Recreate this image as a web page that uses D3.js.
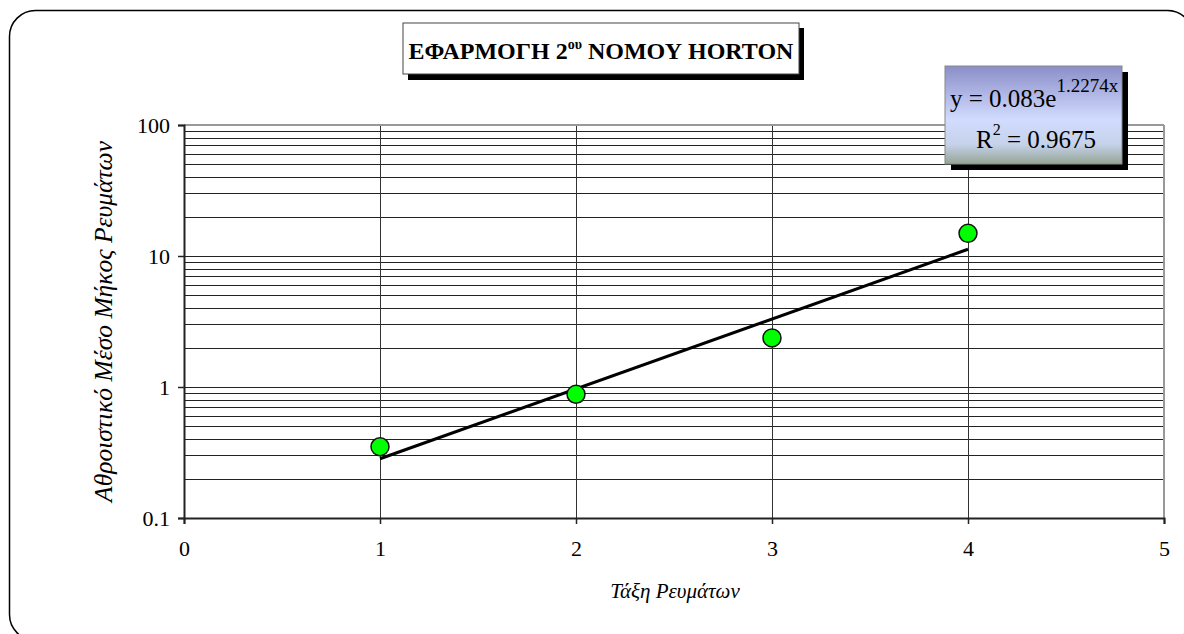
<!DOCTYPE html>
<html>
<head>
<meta charset="utf-8">
<script src="https://cdn.jsdelivr.net/npm/d3@7"></script>
<style>
  body { margin: 0; background: #fff; }
  text { font-family: "Liberation Serif", "Times New Roman", serif; }
</style>
</head>
<body>
<div id="chart"></div>
<script>
// data
var order = [1, 2, 3, 4];
var meanLength = [0.35, 0.88, 2.37, 14.9];
var xTicks = [0, 1, 2, 3, 4, 5];
var yTicks = [0.1, 1, 10, 100];
var trendA = 0.083, trendB = 1.2274;
var trendX = [1, 4];

var W = 1184, H = 634;
var serif = "'Liberation Serif', 'Times New Roman', serif";
var margin = {top: 125, right: 20, bottom: 116, left: 184},
    width = 1164 - margin.left,
    height = 518 - margin.top;

var svg = d3.select("#chart")
  .append("svg")
    .attr("width", W)
    .attr("height", H);

// outer rounded frame
svg.append("rect")
  .attr("x", 9.5).attr("y", 10.5)
  .attr("width", 1184).attr("height", 630)
  .attr("rx", 26).attr("ry", 26)
  .attr("fill", "#fff")
  .attr("stroke", "#000")
  .attr("stroke-width", 1.5);

var g = svg.append("g")
  .attr("transform", "translate(" + margin.left + "," + margin.top + ")");

var x = d3.scaleLinear().domain([0, 5]).range([0, width]);
var y = d3.scaleLog().domain([0.1, 100]).range([height, 0]);

// horizontal grid: every 1..9 per decade
var gridVals = [];
for (var e = -1; e < 2; e++) {
  for (var m = 1; m < 10; m++) gridVals.push(m * Math.pow(10, e));
}
gridVals.push(100);
g.append("g")
  .selectAll("line")
  .data(gridVals)
  .enter()
  .append("line")
    .attr("x1", 0).attr("x2", width)
    .attr("y1", function (d) { return Math.round(y(d)) + 0.5; })
    .attr("y2", function (d) { return Math.round(y(d)) + 0.5; })
    .attr("stroke", "#222")
    .attr("stroke-width", 1);

// vertical grid
g.append("g")
  .selectAll("line")
  .data(xTicks.slice(1, -1))
  .enter()
  .append("line")
    .attr("x1", function (d) { return Math.round(x(d)) + 0.5; })
    .attr("x2", function (d) { return Math.round(x(d)) + 0.5; })
    .attr("y1", 0).attr("y2", height)
    .attr("stroke", "#333")
    .attr("stroke-width", 1);

// plot border top / right
g.append("line").attr("x1", 0).attr("x2", width).attr("y1", 0).attr("y2", 0)
  .attr("stroke", "#999").attr("stroke-width", 2);
g.append("line").attr("x1", width).attr("x2", width).attr("y1", 0).attr("y2", height)
  .attr("stroke", "#999").attr("stroke-width", 2);

// axes
var xAxis = g.append("g")
  .attr("transform", "translate(0," + height + ")")
  .call(d3.axisBottom(x).tickValues(xTicks).tickSize(6).tickPadding(16).tickFormat(d3.format("d")));
var yAxis = g.append("g")
  .call(d3.axisLeft(y).tickValues(yTicks).tickSize(6).tickPadding(8)
    .tickFormat(function (d) { return d < 1 ? "0.1" : String(d); }));
[xAxis, yAxis].forEach(function (a) {
  a.attr("font-family", serif).attr("font-size", 22);
  a.select(".domain").attr("stroke", "#222").attr("stroke-width", 2);
  a.selectAll(".tick line").attr("stroke", "#222").attr("stroke-width", 1.5);
  a.selectAll(".tick text").attr("fill", "#000");
});

// trendline from displayed equation
var trend = d3.line()
  .x(function (d) { return x(d); })
  .y(function (d) { return y(trendA * Math.exp(trendB * d)); });
g.append("path")
  .datum(trendX)
  .attr("d", trend)
  .attr("fill", "none")
  .attr("stroke", "#000")
  .attr("stroke-width", 3);

// points
g.append("g")
  .selectAll("circle")
  .data(order)
  .enter()
  .append("circle")
    .attr("cx", function (d) { return x(d); })
    .attr("cy", function (d, i) { return y(meanLength[i]); })
    .attr("r", 9)
    .attr("fill", "#00ff00")
    .attr("stroke", "#111")
    .attr("stroke-width", 1.5);

// axis titles
svg.append("text")
  .attr("transform", "translate(112," + (margin.top + height / 2) + ") rotate(-90)")
  .attr("text-anchor", "middle")
  .style("font-size", "25.5px")
  .style("font-style", "italic")
  .text("Αθροιστικό Μέσο Μήκος Ρευμάτων");

svg.append("text")
  .attr("x", 675).attr("y", 598)
  .attr("text-anchor", "middle")
  .style("font-size", "21px")
  .style("font-style", "italic")
  .text("Τάξη Ρευμάτων");

// title box
var tb = svg.append("g");
tb.append("rect").attr("x", 408).attr("y", 28).attr("width", 396).attr("height", 52).attr("fill", "#000");
tb.append("rect").attr("x", 403).attr("y", 23).attr("width", 396).attr("height", 51)
  .attr("fill", "#fff").attr("stroke", "#444").attr("stroke-width", 1);
var tt = tb.append("text")
  .attr("x", 601).attr("y", 59)
  .attr("text-anchor", "middle")
  .style("font-size", "24px")
  .style("font-weight", "bold");
tt.append("tspan").text("ΕΦΑΡΜΟΓΗ 2");
tt.append("tspan").attr("dy", -10).style("font-size", "14px").text("ου");
tt.append("tspan").attr("dy", 10).text(" ΝΟΜΟΥ HORTON");

// equation box
var defs = svg.append("defs");
var grad = defs.append("linearGradient").attr("id", "eqg")
  .attr("x1", 0).attr("y1", 0).attr("x2", 0).attr("y2", 1);
grad.append("stop").attr("offset", "0%").attr("stop-color", "#8a8ec8");
grad.append("stop").attr("offset", "55%").attr("stop-color", "#d2dcff");
grad.append("stop").attr("offset", "80%").attr("stop-color", "#c6d2ea");
grad.append("stop").attr("offset", "100%").attr("stop-color", "#94a494");

var eb = svg.append("g");
eb.append("rect").attr("x", 951).attr("y", 72).attr("width", 177).attr("height", 98).attr("fill", "#000");
eb.append("rect").attr("x", 945).attr("y", 66).attr("width", 177).attr("height", 98)
  .attr("fill", "url(#eqg)").attr("stroke", "#888").attr("stroke-width", 1);
var e1 = eb.append("text").attr("x", 950).attr("y", 107).style("font-size", "25px");
e1.append("tspan").text("y = " + trendA + "e");
e1.append("tspan").attr("dy", -15).style("font-size", "19px").text(trendB + "x");
var e2 = eb.append("text").attr("x", 976).attr("y", 148).style("font-size", "25px");
e2.append("tspan").text("R");
e2.append("tspan").attr("dy", -13).style("font-size", "16px").text("2");
e2.append("tspan").attr("dy", 13).text(" = 0.9675");
</script>
</body>
</html>
